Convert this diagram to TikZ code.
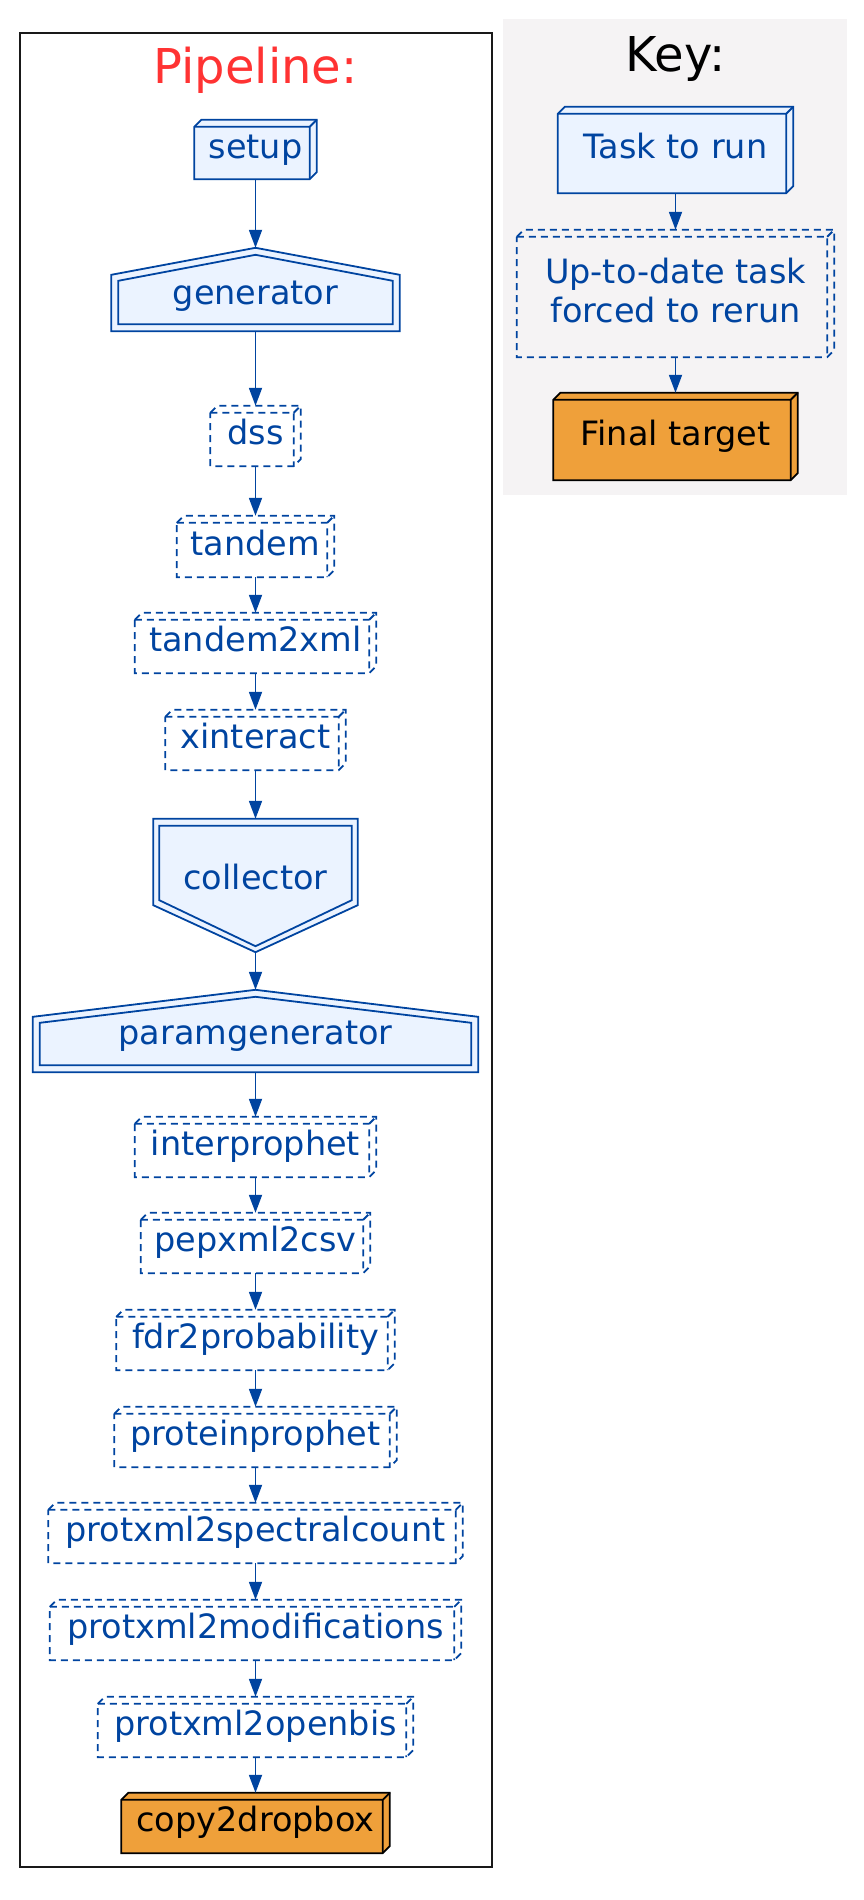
\documentclass[tikz,border=0pt]{standalone}
\usepackage{fontspec}
\setmainfont{DejaVu Sans}
\usetikzlibrary{arrows.meta}
\definecolor{tblue}{HTML}{0044A0}
\definecolor{tfill}{HTML}{EBF3FF}
\definecolor{torange}{HTML}{EFA03A}
\definecolor{keybg}{HTML}{F5F3F4}
\definecolor{tred}{HTML}{FF3333}
\pgfdeclarelayer{bg}
\pgfsetlayers{bg,main}
\def\bxd{7pt}
\newcommand\shapeboxthree[2]{%
\begin{pgfonlayer}{bg}
\path[#1] ([yshift=-\bxd]#2.north west) -- ([xshift=\bxd]#2.north west) -- (#2.north east) -- ([yshift=\bxd]#2.south east) -- ([xshift=-\bxd]#2.south east) -- (#2.south west) -- cycle;
\path[#1,fill=none] ([yshift=-\bxd]#2.north west) -- ([xshift=-\bxd,yshift=-\bxd]#2.north east) -- ([xshift=-\bxd]#2.south east) ([xshift=-\bxd,yshift=-\bxd]#2.north east) -- (#2.north east);
\end{pgfonlayer}}
\newcommand\shapehouse[1]{%
\begin{pgfonlayer}{bg}
\path[solidtask] (#1.south west) -- (#1.south east) -- ([yshift=-27pt]#1.north east) -- (#1.north) -- ([yshift=-27pt]#1.north west) -- cycle;
\path[solidtask,fill=none] ([xshift=7pt,yshift=7pt]#1.south west) -- ([xshift=-7pt,yshift=7pt]#1.south east) -- ([xshift=-7pt,yshift=-33pt]#1.north east) -- ([yshift=-7pt]#1.north) -- ([xshift=7pt,yshift=-33pt]#1.north west) -- cycle;
\end{pgfonlayer}}
\newcommand\shapeinvhouse[1]{%
\begin{pgfonlayer}{bg}
\path[solidtask] (#1.north west) -- (#1.north east) -- ([yshift=47pt]#1.south east) -- (#1.south) -- ([yshift=47pt]#1.south west) -- cycle;
\path[solidtask,fill=none] ([xshift=6pt,yshift=-7pt]#1.north west) -- ([xshift=-6pt,yshift=-7pt]#1.north east) -- ([xshift=-6pt,yshift=52pt]#1.south east) -- ([yshift=6pt]#1.south) -- ([xshift=6pt,yshift=52pt]#1.south west) -- cycle;
\end{pgfonlayer}}
\tikzset{
  tasktext/.style={draw=none, fill=none, inner sep=0pt, text=tblue, font=\fontsize{33.5}{39}\selectfont},
  task/.style={tasktext, text height=24.5pt, text depth=7pt},
  sz/.style 2 args={minimum width=#1pt, minimum height=#2pt},
  solidtask/.style={draw=tblue, fill=tfill, line width=1.8pt, line join=miter},
  dashtask/.style={draw=tblue, line width=1.8pt, dash pattern=on 7pt off 5pt},
  finaltask/.style={draw=black, fill=torange, line width=1.8pt},
  flow/.style={draw=tblue, line width=1.8pt, -{Triangle[length=18pt,width=13pt]}},
  titletext/.style={inner sep=0pt, anchor=base, font=\fontsize{48}{56}\selectfont},
}
\begin{document}
\begin{tikzpicture}[x=1pt,y=-1pt]
\useasboundingbox (0,0) rectangle (863,1900);
\begin{pgfonlayer}{bg}
\fill[keybg] (503,19) rectangle (847,495);
\end{pgfonlayer}
\draw[line width=1.6pt, draw=black!90] (20,33) rectangle (492,1867);
\node[titletext, text=tred] (ptitle) at (255.5,84) {Pipeline:};
\node[titletext, text=black] (ktitle) at (675.5,72) {Key:};
% pipeline
\node[task, sz={122}{59}] (setup) at (255.5,149.5) {setup};
\node[task, sz={288}{83}, text height=36pt] (generator) at (255.5,289.5) {generator};
\node[task, sz={90}{60}] (dss) at (255.5,436) {dss};
\node[task, sz={157}{61}] (tandem) at (255.5,546.5) {tandem};
\node[task, sz={241}{60}] (tandem2xml) at (255.5,643) {tandem2xml};
\node[task, sz={180}{60}] (xinteract) at (255.5,740) {xinteract};
\node[task, sz={204}{133}, text height=15pt] (collector) at (255.5,885.5) {collector};
\node[task, sz={445}{82}, text height=33pt] (paramgenerator) at (255.5,1031) {paramgenerator};
\node[task, sz={241}{60}] (interprophet) at (255.5,1147) {interprophet};
\node[task, sz={229}{60}] (pepxml2csv) at (255.5,1243) {pepxml2csv};
\node[task, sz={278}{60}] (fdr2probability) at (255.5,1340) {fdr2probability};
\node[task, sz={282}{60}] (proteinprophet) at (255.5,1437) {proteinprophet};
\node[task, sz={414}{60}] (protxml2spectralcount) at (255.5,1533) {protxml2spectralcount};
\node[task, sz={411}{60}] (protxml2modifications) at (255.5,1630) {protxml2modifications};
\node[task, sz={315}{60}] (protxml2openbis) at (255.5,1727) {protxml2openbis};
\node[task, sz={268}{60}, text=black] (copy2dropbox) at (255.5,1823) {copy2dropbox};
% key
\node[task, sz={235}{86}] (keytask) at (675.5,150) {Task to run};
\node[tasktext, sz={317}{127}] (keyuptodate) at (675.5,293.5) {\raisebox{-28.5pt}[0pt][0pt]{\begin{tabular}[b]{@{}c@{}}Up-to-date task\\forced to rerun\end{tabular}}};
\node[task, sz={244}{87}, text=black] (keyfinal) at (675.5,436.5) {Final target};
% shapes
\shapeboxthree{solidtask}{setup}
\shapehouse{generator}
\foreach \n in {dss,tandem,tandem2xml,xinteract,interprophet,pepxml2csv,fdr2probability,proteinprophet,protxml2spectralcount,protxml2modifications,protxml2openbis}
  {\shapeboxthree{dashtask}{\n}}
\shapeinvhouse{collector}
\shapehouse{paramgenerator}
\shapeboxthree{finaltask}{copy2dropbox}
\shapeboxthree{solidtask}{keytask}
\shapeboxthree{dashtask}{keyuptodate}
\shapeboxthree{finaltask}{keyfinal}
% edges
\foreach \a/\b in {setup/generator,generator/dss,dss/tandem,tandem/tandem2xml,tandem2xml/xinteract,xinteract/collector,collector/paramgenerator,paramgenerator/interprophet,interprophet/pepxml2csv,pepxml2csv/fdr2probability,fdr2probability/proteinprophet,proteinprophet/protxml2spectralcount,protxml2spectralcount/protxml2modifications,protxml2modifications/protxml2openbis,protxml2openbis/copy2dropbox,keytask/keyuptodate,keyuptodate/keyfinal}
  {\draw[flow] (\a.south) -- (\b.north);}
\end{tikzpicture}
\end{document}
